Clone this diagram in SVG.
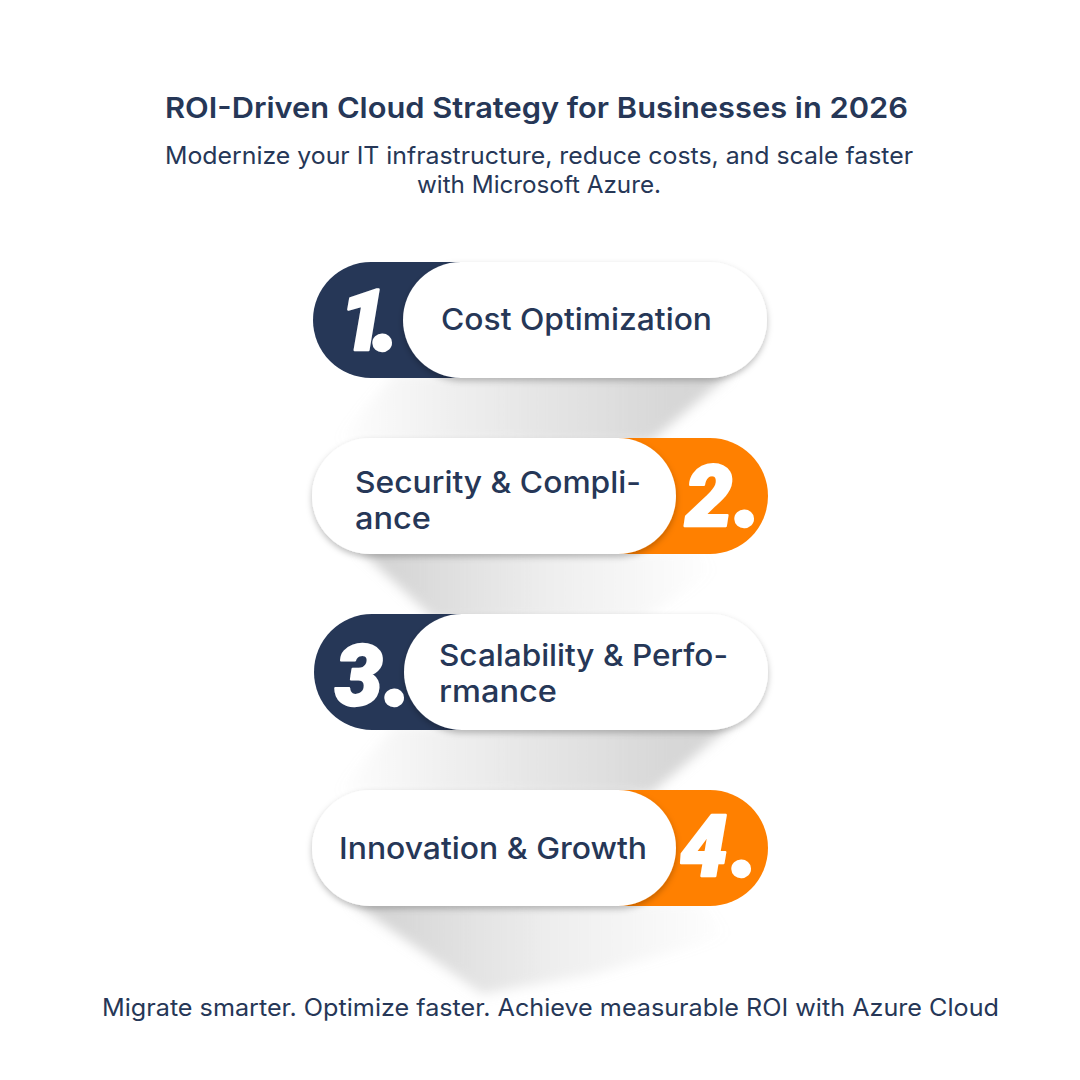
<svg xmlns="http://www.w3.org/2000/svg" width="1080" height="1080" viewBox="0 0 1080 1080">
<defs>
<style>
text{font-family:"Inter","Noto Sans",sans-serif;fill:#263757}
.t{font-size:29px;font-weight:600}
.s{font-size:24px;font-weight:400}
.l{font-size:30px;font-weight:500}
.n{font-family:"Roboto","Liberation Sans",sans-serif;font-size:85px;font-weight:900;font-style:italic;fill:#fff;stroke:#fff;stroke-width:2.4px;stroke-linejoin:round}
.d{font-size:98px}
.navy{fill:#263757}.orange{fill:#ff8000}.pill{fill:#fff;filter:url(#ps)}
</style>
<filter id="ps" x="-10%" y="-20%" width="120%" height="150%"><feDropShadow dx="0" dy="3" stdDeviation="3" flood-color="#000" flood-opacity=".26"/></filter>
<filter id="b" x="-15%" y="-30%" width="130%" height="160%"><feGaussianBlur stdDeviation="6"/></filter>
<linearGradient id="gR" x1="0" y1="0" x2="1" y2="0"><stop offset="0" stop-color="#c8c8c8" stop-opacity="0"/><stop offset=".3" stop-color="#c8c8c8" stop-opacity=".3"/><stop offset=".85" stop-color="#c4c4c4" stop-opacity=".68"/><stop offset="1" stop-color="#c4c4c4" stop-opacity=".7"/></linearGradient>
<linearGradient id="gL" x1="0" y1="0" x2="1" y2="0"><stop offset="0" stop-color="#bdbdbd" stop-opacity=".72"/><stop offset=".55" stop-color="#c8c8c8" stop-opacity=".3"/><stop offset="1" stop-color="#c8c8c8" stop-opacity="0"/></linearGradient>
</defs>
<rect width="1080" height="1080" fill="#fff"/>
<g id="connectors">
<polygon fill="url(#gR)" filter="url(#b)" points="395,374 730,374 650,442 335,442"/>
<polygon fill="url(#gL)" filter="url(#b)" points="360,550 700,550 715,572 640,620 435,620"/>
<polygon fill="url(#gR)" filter="url(#b)" points="395,726 730,726 650,794 335,794"/>
<polygon fill="url(#gL)" filter="url(#b)" points="352,902 700,902 730,935 590,975 482,994"/>
</g>
<g id="header">
<text class="t" x="536.5" y="118" text-anchor="middle" textLength="743" lengthAdjust="spacingAndGlyphs">ROI-Driven Cloud Strategy for Businesses in 2026</text>
<text class="s" x="539" y="164" text-anchor="middle" textLength="748" lengthAdjust="spacingAndGlyphs">Modernize your IT infrastructure, reduce costs, and scale faster</text>
<text class="s" x="539" y="193" text-anchor="middle" textLength="244" lengthAdjust="spacingAndGlyphs">with Microsoft Azure.</text>
</g>
<g id="node-1">
<rect class="navy" x="313" y="262" width="220" height="116" rx="58"/>
<rect class="pill" x="403" y="262" width="364" height="116" rx="58"/>
<text class="n" x="339" y="350"><tspan style="letter-spacing:-15px">1</tspan><tspan class="d">.</tspan></text>
<text class="l" x="441" y="330" textLength="271" lengthAdjust="spacingAndGlyphs">Cost Optimization</text>
</g>
<g id="node-2">
<rect class="orange" x="548" y="438" width="220" height="116" rx="58"/>
<rect class="pill" x="312" y="438" width="364" height="116" rx="58"/>
<text class="n" x="685" y="526"><tspan style="letter-spacing:1px">2</tspan><tspan class="d">.</tspan></text>
<text class="l" x="355" y="493" textLength="286" lengthAdjust="spacingAndGlyphs">Security &amp; Compli-</text>
<text class="l" x="355" y="529" textLength="76" lengthAdjust="spacingAndGlyphs">ance</text>
</g>
<g id="node-3">
<rect class="navy" x="314" y="614" width="220" height="116" rx="58"/>
<rect class="pill" x="404" y="614" width="364" height="116" rx="58"/>
<text class="n" x="335" y="705"><tspan style="letter-spacing:1px">3</tspan><tspan class="d">.</tspan></text>
<text class="l" x="439" y="666" textLength="289" lengthAdjust="spacingAndGlyphs">Scalability &amp; Perfo-</text>
<text class="l" x="439" y="702" textLength="118" lengthAdjust="spacingAndGlyphs">rmance</text>
</g>
<g id="node-4">
<rect class="orange" x="548" y="790" width="220" height="116" rx="58"/>
<rect class="pill" x="312" y="790" width="364" height="116" rx="58"/>
<text class="n" x="680" y="876"><tspan style="letter-spacing:3px">4</tspan><tspan class="d">.</tspan></text>
<text class="l" x="339" y="859" textLength="308" lengthAdjust="spacingAndGlyphs">Innovation &amp; Growth</text>
</g>
<g id="footer">
<text class="s" x="550.5" y="1016" text-anchor="middle" textLength="897" lengthAdjust="spacingAndGlyphs">Migrate smarter. Optimize faster. Achieve measurable ROI with Azure Cloud</text>
</g>
</svg>
